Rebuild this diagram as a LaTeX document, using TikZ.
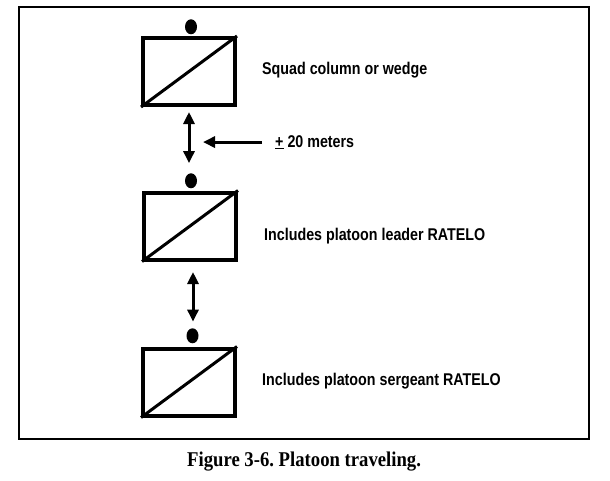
\documentclass[tikz,border=0pt]{standalone}
\usepackage{fontspec}
\newfontfamily\labfont[FakeStretch=0.84]{Liberation Sans}
\newfontfamily\capfont[FakeStretch=0.89]{Liberation Serif}
\usetikzlibrary{arrows.meta,shapes.geometric}
\frenchspacing
\begin{document}
\begin{tikzpicture}[x=1pt,y=-1pt]
\tikzset{
 sq/.style={draw, rectangle, line width=4pt, minimum width=92pt, minimum height=67pt, inner sep=0pt},
 dot/.style={ellipse, fill, minimum width=12pt, minimum height=15pt, inner sep=0pt, anchor=south},
 lab/.style={font=\labfont\bfseries\fontsize{17}{20}\selectfont, inner sep=0pt, anchor=base west},
 diag/.style={line width=3pt},
 arr/.style={line width=3pt, -{Triangle[length=12pt,width=11pt]}},
 darr/.style={line width=3pt, {Triangle[length=12pt,width=11pt]}-{Triangle[length=12pt,width=11pt]}},
}
\fill[white] (0,0) rectangle (610,480);
\path[use as bounding box] (0,0) rectangle (610,480);
\node[draw, line width=2pt, rectangle, minimum width=570pt, minimum height=432pt, inner sep=0pt] (frame) at (304,223) {};

\node[sq] (b1) at (189,71.5) {};
\node[sq] (b2) at (190,226) {};
\node[sq] (b3) at (189,382) {};
\draw[diag] (b1.south west) -- (b1.north east);
\draw[diag] (b2.south west) -- (b2.north east);
\draw[diag] (b3.south west) -- (b3.north east);

\node[dot] (c1) at ([xshift=2pt,yshift=1.5pt]b1.north) {};
\node[dot] (c2) at ([xshift=1pt,yshift=2pt]b2.north) {};
\node[dot] (c3) at ([xshift=3.5pt,yshift=3pt]b3.north) {};

\draw[darr, shorten <=5pt, shorten >=10pt] (b1.south) -- (b1.south |- c2.north);
\draw[darr, shorten <=10.5pt, shorten >=6.5pt] ([xshift=3pt]b2.south) -- ([xshift=3pt]b2.south |- c3.north);

\node[lab] (l1) at (262,74) {Squad column or wedge};
\node[lab] (m) at (275,147) {\underline{+} 20 meters};
\node[lab] (l2) at (264,240) {Includes platoon leader RATELO};
\node[lab] (l3) at (262,385) {Includes platoon sergeant RATELO};

\coordinate (tip) at (203,143);
\draw[arr, shorten <=13pt] (m.west) -- (tip |- m.west);

\node[font=\capfont\bfseries\fontsize{21}{24}\selectfont, anchor=base west, inner sep=0pt] (cap) at (187,466.7) {Figure 3-6. Platoon traveling.};
\end{tikzpicture}
\end{document}
